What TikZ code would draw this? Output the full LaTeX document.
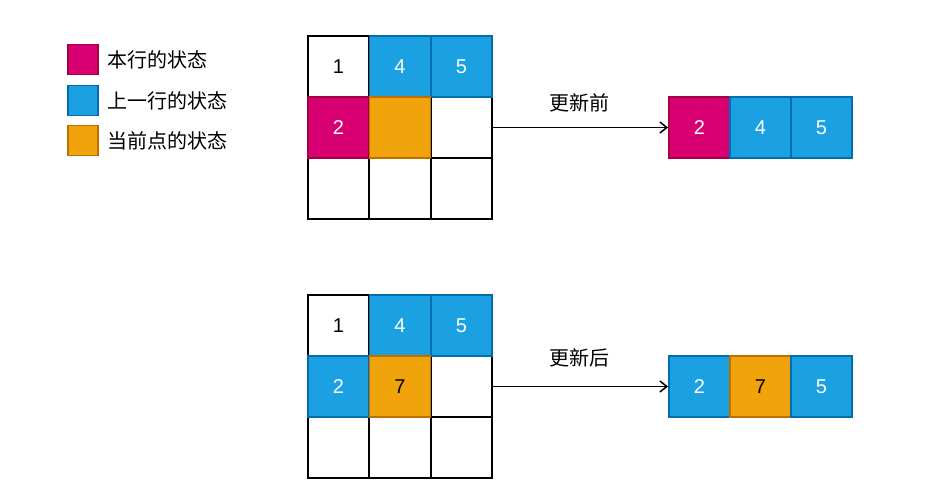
\documentclass[tikz,border=0pt]{standalone}
\usepackage{fontspec}
\usetikzlibrary{arrows.meta}
\setmainfont{Liberation Sans}
\newfontfamily\cjk{Noto Sans CJK SC}
\definecolor{pinkfill}{HTML}{D80073}
\definecolor{pinkline}{HTML}{A50040}
\definecolor{bluefill}{HTML}{1BA1E2}
\definecolor{blueline}{HTML}{006EAF}
\definecolor{orangefill}{HTML}{F0A30A}
\definecolor{orangeline}{HTML}{BD7000}
\begin{document}
\begin{tikzpicture}[x=1pt, y=-1pt, >={Straight Barb[length=7pt, width=11pt]},
		font=\fontsize{20}{24}\selectfont,
		cell/.style={draw=black, line width=1.5pt, minimum size=61.3pt, inner sep=0pt, fill=white},
		now/.style={cell, draw=pinkline, fill=pinkfill, text=white},
		up/.style={cell, draw=blueline, fill=bluefill, text=white},
		cur/.style={cell, draw=orangeline, fill=orangefill},
		key/.style={draw, line width=1.5pt, minimum size=30pt, inner sep=0pt},
		label/.style={font=\cjk\fontsize{20}{24}\selectfont}]
		\useasboundingbox (0, 0) rectangle (944, 503);
		% legend
		\node[key, draw=pinkline, fill=pinkfill] (k1) at (83, 59.5) {};
		\node[key, draw=blueline, fill=bluefill] (k2) at (83, 100.5) {};
		\node[key, draw=orangeline, fill=orangefill] (k3) at (83, 140.5) {};
		\node[label, anchor=west] (t1) at (104, 59.5) {本行的状态};
		\node[label, anchor=west] (t2) at (104, 100.5) {上一行的状态};
		\node[label, anchor=west] (t3) at (104, 140.5) {当前点的状态};
		% before the update
		\node[cell] (a11) at (338.5, 66.5) {1};
		\node[cell] (a23) at (461.5, 127.5) {};
		\node[cell] (a31) at (338.5, 188.5) {};
		\node[cell] (a32) at (400, 188.5) {};
		\node[cell] (a33) at (461.5, 188.5) {};
		\node[up] (a12) at (400, 66.5) {4};
		\node[up] (a13) at (461.5, 66.5) {5};
		\node[now] (a21) at (338.5, 127.5) {2};
		\node[cur] (a22) at (400, 127.5) {};
		\node[now] (r1) at (699.5, 127.5) {2};
		\node[up] (r2) at (760.5, 127.5) {4};
		\node[up] (r3) at (821.5, 127.5) {5};
		\draw[->, line width=1.5pt] (a23.east) -- (r1.west);
		\node[label] (l1) at (579, 103) {更新前};
		% after the update
		\node[cell] (b11) at (338.5, 325.5) {1};
		\node[cell] (b23) at (461.5, 386.5) {};
		\node[cell] (b31) at (338.5, 447.5) {};
		\node[cell] (b32) at (400, 447.5) {};
		\node[cell] (b33) at (461.5, 447.5) {};
		\node[up] (b12) at (400, 325.5) {4};
		\node[up] (b13) at (461.5, 325.5) {5};
		\node[up] (b21) at (338.5, 386.5) {2};
		\node[cur] (b22) at (400, 386.5) {7};
		\node[up] (s1) at (699.5, 386.5) {2};
		\node[cur] (s2) at (760.5, 386.5) {7};
		\node[up] (s3) at (821.5, 386.5) {5};
		\draw[->, line width=1.5pt] (b23.east) -- (s1.west);
		\node[label] (l2) at (579, 358) {更新后};
	\end{tikzpicture}
\end{document}
